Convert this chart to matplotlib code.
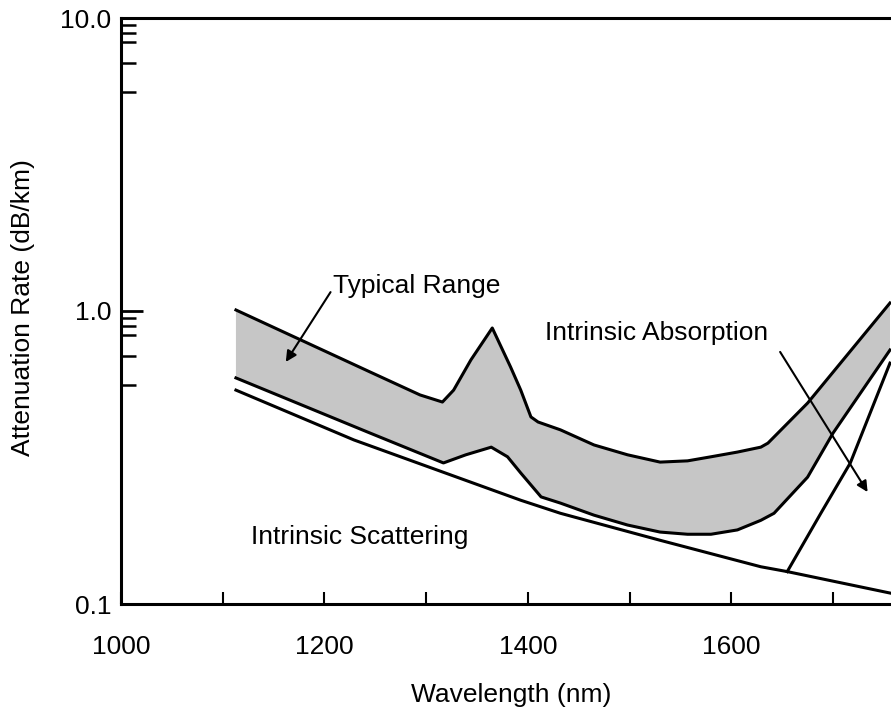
import numpy as np
import matplotlib
matplotlib.use("Agg")
import matplotlib.pyplot as plt

plt.rcParams['font.family'] = ['Liberation Sans', 'DejaVu Sans']

# values (wavelength nm, attenuation dB/km)
upper_wl = [1113, 1245, 1294, 1316, 1327, 1344, 1365, 1383, 1393, 1403, 1410,
            1432, 1465, 1498, 1530, 1557, 1580, 1606, 1629, 1636, 1675, 1756]
upper_att = [1.008, 0.619, 0.517, 0.489, 0.537, 0.681, 0.875, 0.644, 0.537, 0.435, 0.418,
             0.393, 0.349, 0.323, 0.305, 0.308, 0.318, 0.330, 0.343, 0.354, 0.485, 1.065]

lower_wl = [1113, 1245, 1317, 1339, 1364, 1380, 1393, 1413, 1432, 1465, 1498, 1530,
            1557, 1580, 1606, 1629, 1642, 1675, 1700, 1756]
lower_att = [0.591, 0.383, 0.303, 0.323, 0.343, 0.318, 0.280, 0.232, 0.221, 0.201, 0.186, 0.176,
             0.173, 0.173, 0.179, 0.193, 0.204, 0.271, 0.383, 0.736]

scatter_wl = [1113, 1229, 1393, 1432, 1530, 1629, 1655, 1756]
scatter_att = [0.537, 0.363, 0.226, 0.204, 0.165, 0.134, 0.129, 0.109]

absorb_wl = [1655, 1688, 1717, 1756]
absorb_att = [0.129, 0.204, 0.303, 0.664]

x_ticks = [1000, 1100, 1200, 1300, 1400, 1500, 1600, 1700]
x_ticklabels = ['1000', '', '1200', '', '1400', '', '1600', '']
y_ticks = [0.1, 1.0, 10.0]
y_ticklabels = ['0.1', '1.0', '10.0']
y_minor = [0.56, 0.70, 0.83, 0.89, 0.95, 5.6, 7.0, 8.3, 8.9, 9.5]

fig = plt.figure(figsize=(8.91, 7.19), dpi=100)
ax = fig.add_axes([121 / 891, 115 / 719, 770 / 891, 586 / 719])

lw = 2.2
band_x = np.concatenate([upper_wl, lower_wl[::-1]])
band_y = np.concatenate([upper_att, lower_att[::-1]])
ax.fill(band_x, band_y, color='#c6c6c6', lw=0)
ax.plot(upper_wl, upper_att, color='black', lw=lw, solid_joinstyle='round')
ax.plot(lower_wl, lower_att, color='black', lw=lw, solid_joinstyle='round')
ax.plot(scatter_wl, scatter_att, color='black', lw=lw, solid_joinstyle='round')
ax.plot(absorb_wl, absorb_att, color='black', lw=lw, solid_joinstyle='round')

ax.set_yscale('log')
ax.set_xlim(1000, 1757)
ax.set_ylim(0.1, 10.0)

ax.set_xticks(x_ticks)
ax.set_xticklabels(x_ticklabels)
ax.set_yticks(y_ticks)
ax.set_yticklabels(y_ticklabels)
ax.set_yticks(y_minor, minor=True)
ax.yaxis.set_minor_formatter(matplotlib.ticker.NullFormatter())
ax.xaxis.set_minor_locator(matplotlib.ticker.NullLocator())

fs = 19
ax.tick_params(axis='x', direction='in', length=9, width=1.5, pad=22, labelsize=fs)
ax.tick_params(axis='y', which='major', direction='in', length=16, width=2, pad=7, labelsize=fs)
ax.tick_params(axis='y', which='minor', direction='in', length=11, width=1.8)

for side in ['left', 'bottom', 'top']:
    ax.spines[side].set_linewidth(2.2)
ax.spines['right'].set_visible(False)

# annotations
arrow = dict(arrowstyle='-|>', color='black', lw=1.5, mutation_scale=16,
             shrinkA=0, shrinkB=0)
ax.text(1208, 1.22, 'Typical Range', fontsize=fs, ha='left', va='center')
ax.annotate('', xy=(1162, 0.67), xytext=(1206, 1.16), arrowprops=arrow)
ax.text(1417, 0.84, 'Intrinsic Absorption', fontsize=fs, ha='left', va='center')
ax.annotate('', xy=(1734, 0.241), xytext=(1648, 0.725), arrowprops=arrow)
ax.text(1128, 0.169, 'Intrinsic Scattering', fontsize=fs, ha='left', va='center')

fig.text(511 / 891, 1 - 695 / 719, 'Wavelength (nm)', fontsize=fs, ha='center', va='center')
fig.text(23 / 891, 1 - 308 / 719, 'Attenuation Rate (dB/km)', fontsize=fs,
         rotation=90, ha='center', va='center')

fig.savefig('out.png', dpi=100)
